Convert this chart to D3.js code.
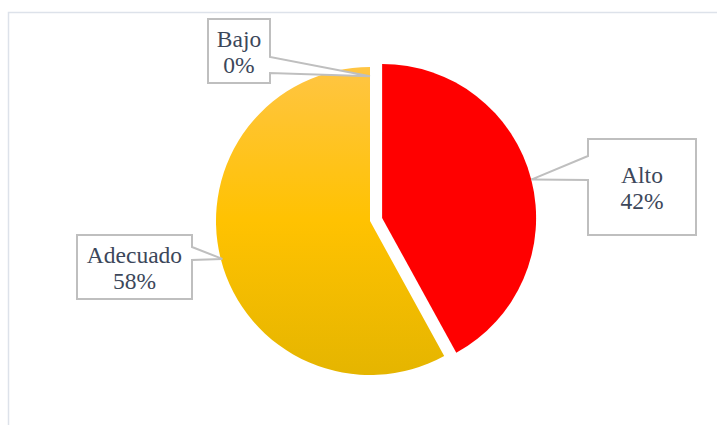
<!DOCTYPE html>
<html>
<head>
<meta charset="utf-8">
<script src="https://cdn.jsdelivr.net/npm/d3@7"></script>
<style>
  body { margin: 0; background: #fff; }
  svg { display: block; }
  .lbl { font-family: "Liberation Serif", "Times New Roman", Tinos, serif; }
</style>
</head>
<body>
<div id="chart"></div>
<script>
// data
var categories = ["Alto", "Adecuado", "Bajo"];
var percents = [42, 58, 0];
var labels = ["42%", "58%", "0%"];

// layout
var W = 717, H = 425;
var cx = 370, cy = 221, radius = 154;
var explode = 12.5; // Alto slice pulled out

// callout boxes: [x0, y0, x1, y1], side of wedge, wedge y's, tip radius factor
var callouts = {
  "Alto":     { box: [588, 139, 696, 235], side: "left",  wy: [156, 180], tipR: 1.0 },
  "Adecuado": { box: [77, 235, 192, 299],  side: "right", wy: [247, 260], tipR: 0.99 },
  "Bajo":     { box: [208, 19, 270, 83],   side: "right", wy: [57, 73],   tipR: 0.94 }
};

var svg = d3.select("#chart").append("svg")
  .attr("width", W)
  .attr("height", H);

// outer chart frame
svg.append("path")
  .attr("d", "M8.5," + (H + 5) + " V12.5 H" + (W + 5))
  .attr("fill", "none")
  .attr("stroke", "#dde2ea")
  .attr("stroke-width", 1.5);

var defs = svg.append("defs");
var grad = defs.append("linearGradient")
  .attr("id", "gold")
  .attr("gradientUnits", "userSpaceOnUse")
  .attr("x1", 0).attr("y1", -radius)
  .attr("x2", 0).attr("y2", radius);
grad.append("stop").attr("offset", "0%").attr("stop-color", "#ffc543");
grad.append("stop").attr("offset", "50%").attr("stop-color", "#ffc201");
grad.append("stop").attr("offset", "100%").attr("stop-color", "#e5b500");

var fills = { "Alto": "#ff0000", "Adecuado": "url(#gold)", "Bajo": "#a5a5a5" };

var pie = d3.pie().sort(null).value(function(d) { return d.value; });
var arcs = pie(categories.map(function(c, i) {
  return { name: c, value: percents[i], label: labels[i] };
}));

var arc = d3.arc().innerRadius(0).outerRadius(radius);

function offsetOf(d) {
  if (d.data.name != "Alto") return [0, 0];
  var m = (d.startAngle + d.endAngle) / 2;
  return [Math.sin(m) * explode, -Math.cos(m) * explode];
}

var g = svg.append("g").attr("transform", "translate(" + cx + "," + cy + ")");

g.selectAll("path.slice")
  .data(arcs.filter(function(d) { return d.value > 0; }))
  .enter().append("path")
  .attr("class", "slice")
  .attr("d", arc)
  .attr("fill", function(d) { return fills[d.data.name]; })
  .attr("transform", function(d) {
    var o = offsetOf(d);
    return "translate(" + o[0] + "," + o[1] + ")";
  });

// callouts
arcs.forEach(function(d) {
  var c = callouts[d.data.name];
  var m = (d.startAngle + d.endAngle) / 2;
  var o = offsetOf(d);
  var tip = [cx + o[0] + Math.sin(m) * radius * c.tipR,
             cy + o[1] - Math.cos(m) * radius * c.tipR];
  var b = c.box, pts;
  if (c.side == "left") {
    pts = [[b[0], b[1]], [b[2], b[1]], [b[2], b[3]], [b[0], b[3]],
           [b[0], c.wy[1]], tip, [b[0], c.wy[0]]];
  } else {
    pts = [[b[0], b[1]], [b[2], b[1]], [b[2], c.wy[0]], tip,
           [b[2], c.wy[1]], [b[2], b[3]], [b[0], b[3]]];
  }
  svg.append("path")
    .attr("d", d3.line()(pts) + "Z")
    .attr("fill", "#fff")
    .attr("stroke", "#bfbfbf")
    .attr("stroke-width", 2)
    .attr("stroke-linejoin", "miter");

  var tx = (b[0] + b[2]) / 2, ty = (b[1] + b[3]) / 2;
  var t = svg.append("text")
    .attr("class", "lbl")
    .attr("text-anchor", "middle")
    .attr("font-size", 23.5)
    .attr("fill", "#3c475a");
  t.append("tspan").attr("x", tx).attr("y", ty - 4).text(d.data.name);
  t.append("tspan").attr("x", tx).attr("y", ty + 22).text(d.data.label);
});
</script>
</body>
</html>
